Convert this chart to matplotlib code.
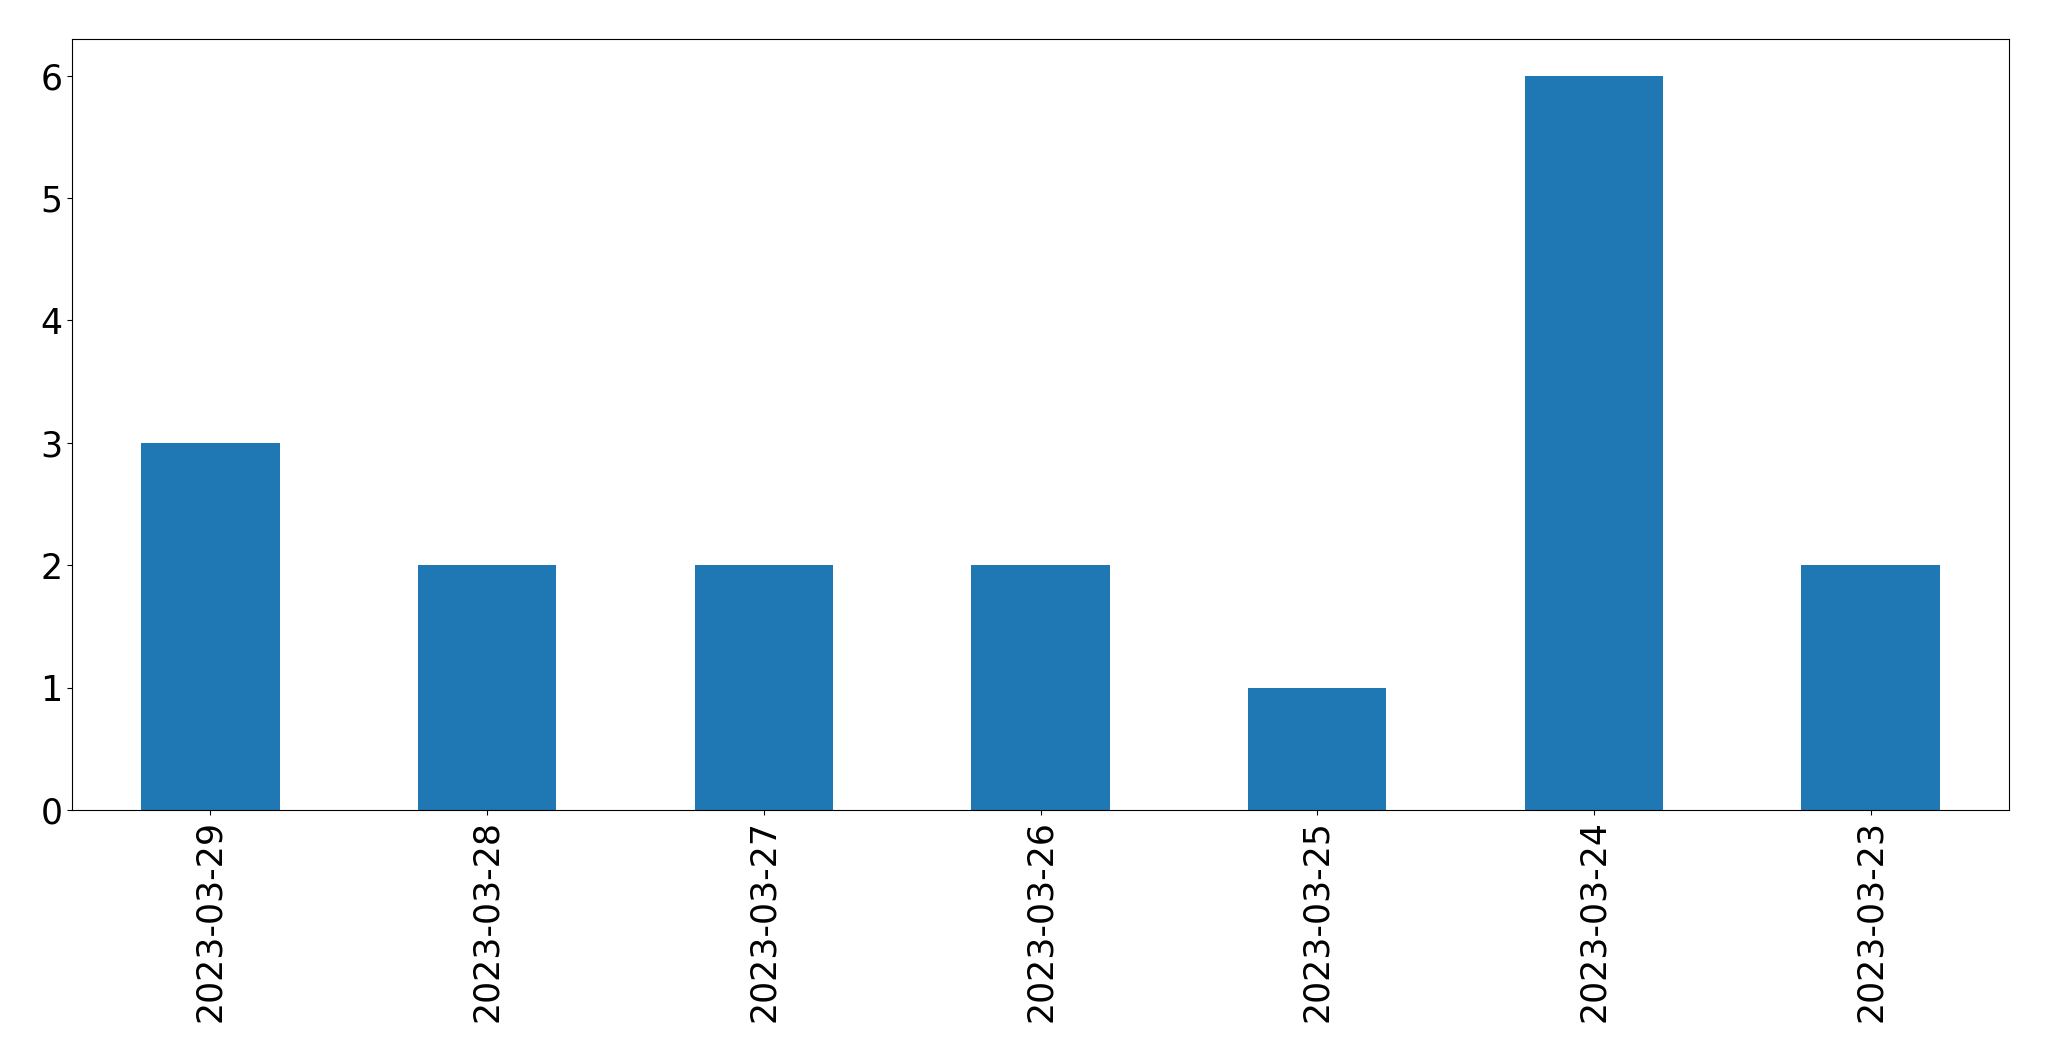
import matplotlib
matplotlib.use("Agg")
import matplotlib.pyplot as plt
import numpy as np

dates = ["2023-03-29", "2023-03-28", "2023-03-27", "2023-03-26", "2023-03-25", "2023-03-24", "2023-03-23"]
counts = [3, 2, 2, 2, 1, 6, 2]

fig = plt.figure(figsize=(20.49, 10.61), dpi=100)
ax = fig.add_axes([72/2049, 1 - 810/1061, (2009-72)/2049, (810-39)/1061])
x = np.arange(len(dates))
ax.bar(x, counts, width=0.5, color="#1f77b4")
ax.set_xlim(-0.5, len(dates) - 0.5)
ax.set_ylim(0, 6.3)
ax.set_xticks(x)
ax.set_xticklabels(dates, rotation=90, fontsize=25)
ax.tick_params(axis="y", labelsize=25)
fig.savefig("out.png", dpi=100)
